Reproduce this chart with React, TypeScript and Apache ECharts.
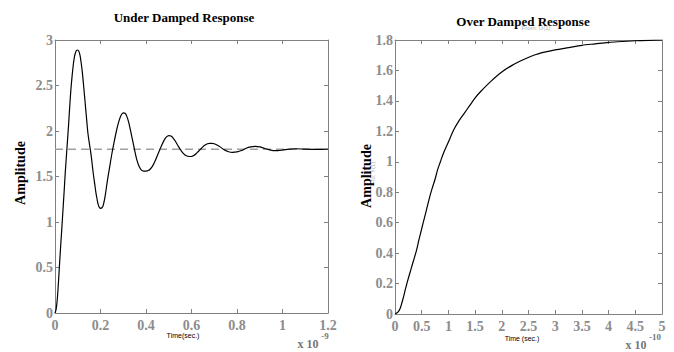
import React, { useEffect, useRef } from "react";
import * as echarts from "echarts";

// Under damped response (time in units of 1e-9 s)
const underT = [0, 0.005, 0.01, 0.015, 0.02, 0.025, 0.03, 0.035, 0.04, 0.045, 0.05, 0.055, 0.06, 0.065, 0.07, 0.075, 0.08, 0.085, 0.09, 0.095, 0.1, 0.105, 0.11, 0.115, 0.12, 0.125, 0.13, 0.135, 0.14, 0.145, 0.15, 0.155, 0.16, 0.165, 0.17, 0.175, 0.18, 0.185, 0.19, 0.195, 0.2, 0.21, 0.22, 0.23, 0.24, 0.25, 0.26, 0.27, 0.28, 0.29, 0.3, 0.31, 0.32, 0.33, 0.34, 0.35, 0.36, 0.37, 0.38, 0.39, 0.4, 0.41, 0.42, 0.43, 0.44, 0.45, 0.46, 0.47, 0.48, 0.49, 0.5, 0.51, 0.52, 0.53, 0.54, 0.55, 0.56, 0.57, 0.58, 0.59, 0.6, 0.61, 0.62, 0.63, 0.64, 0.65, 0.66, 0.67, 0.68, 0.69, 0.7, 0.72, 0.74, 0.76, 0.78, 0.8, 0.82, 0.84, 0.86, 0.88, 0.9, 0.92, 0.94, 0.96, 0.98, 1.0, 1.03, 1.06, 1.1, 1.15, 1.2];
const underY = [0, 0.04, 0.15, 0.33, 0.54, 0.74, 0.93, 1.13, 1.33, 1.54, 1.72, 1.9, 2.08, 2.28, 2.46, 2.6, 2.72, 2.81, 2.86, 2.885, 2.89, 2.875, 2.83, 2.75, 2.65, 2.52, 2.38, 2.24, 2.1, 1.97, 1.88, 1.8, 1.71, 1.6, 1.5, 1.41, 1.32, 1.25, 1.19, 1.16, 1.15, 1.17, 1.28, 1.45, 1.6, 1.75, 1.88, 2.0, 2.1, 2.17, 2.2, 2.19, 2.13, 2.03, 1.91, 1.79, 1.68, 1.61, 1.57, 1.56, 1.56, 1.565, 1.585, 1.62, 1.67, 1.73, 1.79, 1.85, 1.9, 1.935, 1.95, 1.945, 1.92, 1.885, 1.84, 1.8, 1.765, 1.74, 1.725, 1.72, 1.72, 1.73, 1.75, 1.775, 1.8, 1.825, 1.845, 1.86, 1.865, 1.865, 1.86, 1.835, 1.8, 1.775, 1.765, 1.77, 1.785, 1.81, 1.825, 1.83, 1.825, 1.81, 1.795, 1.785, 1.785, 1.79, 1.8, 1.805, 1.8, 1.797, 1.8];
const underSteady = 1.8;
const underXTicks = { min: 0, max: 1.2, interval: 0.2 };
const underYTicks = { min: 0, max: 3, interval: 0.5 };

// Over damped response (time in units of 1e-10 s)
const overT = [0, 0.05, 0.1, 0.15, 0.2, 0.25, 0.3, 0.35, 0.4, 0.45, 0.5, 0.55, 0.6, 0.65, 0.7, 0.75, 0.8, 0.85, 0.9, 1.0, 1.1, 1.2, 1.3, 1.4, 1.5, 1.6, 1.8, 2.0, 2.2, 2.4, 2.6, 2.8, 3.0, 3.25, 3.5, 3.75, 4.0, 4.25, 4.5, 4.75, 5.0];
const overY = [0, 0.01, 0.04, 0.1, 0.17, 0.235, 0.295, 0.355, 0.415, 0.49, 0.56, 0.63, 0.7, 0.77, 0.83, 0.885, 0.95, 1.0, 1.05, 1.13, 1.21, 1.27, 1.32, 1.37, 1.42, 1.46, 1.53, 1.59, 1.635, 1.67, 1.7, 1.72, 1.735, 1.75, 1.765, 1.775, 1.785, 1.79, 1.795, 1.798, 1.8];
const overXTicks = { min: 0, max: 5, interval: 0.5 };
const overYTicks = { min: 0, max: 1.8, interval: 0.2 };

const AXIS_COLOR = "#808080";
const LABEL_COLOR = "#8c8c8c";
const SERIF = "'Liberation Serif', 'Times New Roman', serif";

function mainAxis(pos: string, ticks: any, gridIndex: number, margin: number) {
  return {
    type: "value",
    gridIndex,
    position: pos,
    min: ticks.min,
    max: ticks.max,
    interval: ticks.interval,
    axisLine: { show: true, onZero: false, lineStyle: { color: AXIS_COLOR, width: 1 } },
    axisTick: { show: true, inside: true, length: 4, lineStyle: { color: AXIS_COLOR } },
    axisLabel: {
      show: true,
      margin,
      color: LABEL_COLOR,
      fontFamily: SERIF,
      fontWeight: "bold",
      fontSize: 14,
      showMinLabel: true,
      showMaxLabel: true,
    },
    splitLine: { show: false },
  };
}

function mirrorAxis(pos: string, ticks: any, gridIndex: number) {
  return {
    type: "value",
    gridIndex,
    position: pos,
    min: ticks.min,
    max: ticks.max,
    interval: ticks.interval,
    axisLine: { show: true, onZero: false, lineStyle: { color: AXIS_COLOR, width: 1 } },
    axisTick: { show: true, inside: true, length: 4, lineStyle: { color: AXIS_COLOR } },
    axisLabel: { show: false },
    splitLine: { show: false },
  };
}

export default function App() {
  const ref = useRef<HTMLDivElement>(null);
  useEffect(() => {
    if (!ref.current) return;
    const chart = echarts.init(ref.current, null, { renderer: "svg" });
    const underData = underT.map((t, i) => [t, underY[i]]);
    const overData = overT.map((t, i) => [t, overY[i]]);
    chart.setOption({
      animation: false,
      backgroundColor: "#ffffff",
      grid: [
        { left: 55, top: 40, width: 273, height: 273 },
        { left: 395, top: 40, width: 267, height: 274 },
      ],
      xAxis: [
        mainAxis("bottom", underXTicks, 0, 5),
        mirrorAxis("top", underXTicks, 0),
        mainAxis("bottom", overXTicks, 1, 5),
        mirrorAxis("top", overXTicks, 1),
      ],
      yAxis: [
        mainAxis("left", underYTicks, 0, 2),
        mirrorAxis("right", underYTicks, 0),
        mainAxis("left", overYTicks, 1, 2),
        mirrorAxis("right", overYTicks, 1),
      ],
      series: [
        {
          type: "line",
          xAxisIndex: 0,
          yAxisIndex: 0,
          data: [[underXTicks.min, underSteady], [underXTicks.max, underSteady]],
          showSymbol: false,
          lineStyle: { color: "#a0a0a0", width: 1.5, type: [8, 5] },
          silent: true,
        },
        {
          type: "line",
          xAxisIndex: 0,
          yAxisIndex: 0,
          data: underData,
          showSymbol: false,
          smooth: 0.3,
          lineStyle: { color: "#000000", width: 1.2 },
        },
        {
          type: "line",
          xAxisIndex: 2,
          yAxisIndex: 2,
          data: overData,
          showSymbol: false,
          smooth: 0.3,
          lineStyle: { color: "#000000", width: 1.2 },
        },
      ],
      graphic: [
        { type: "text", x: 184, y: 17, style: { text: "Under Damped Response", font: `bold 13px ${SERIF}`, fill: "#000", textAlign: "center", textVerticalAlign: "middle" } },
        { type: "text", x: 523, y: 21, style: { text: "Over Damped Response", font: `bold 13px ${SERIF}`, fill: "#000", textAlign: "center", textVerticalAlign: "middle" } },
        { type: "text", x: 536, y: 28, style: { text: "From: U(1)", font: `6px 'Liberation Sans', sans-serif`, fill: "#b0b0b0", textAlign: "center", textVerticalAlign: "middle" } },
        { type: "text", x: 20, y: 173, rotation: Math.PI / 2, style: { text: "Amplitude", font: `bold 14px ${SERIF}`, fill: "#000", textAlign: "center", textVerticalAlign: "middle" } },
        { type: "text", x: 366, y: 176, rotation: Math.PI / 2, style: { text: "Amplitude", font: `bold 14px ${SERIF}`, fill: "#000", textAlign: "center", textVerticalAlign: "middle" } },
        { type: "text", x: 373, y: 172, rotation: Math.PI / 2, style: { text: "To: Y(1)", font: `6px 'Liberation Sans', sans-serif`, fill: "#b0b0b0", textAlign: "center", textVerticalAlign: "middle" } },
        { type: "text", x: 183, y: 335, style: { text: "Time(sec.)", font: `7px 'Liberation Sans', sans-serif`, fill: "#000", textAlign: "center", textVerticalAlign: "middle" } },
        { type: "text", x: 522, y: 338, style: { text: "Time (sec.)", font: `7px 'Liberation Sans', sans-serif`, fill: "#000", textAlign: "center", textVerticalAlign: "middle" } },
        { type: "text", x: 308, y: 344, style: { text: "x 10", font: `bold 12px ${SERIF}`, fill: "#777", textAlign: "center", textVerticalAlign: "middle" } },
        { type: "text", x: 325, y: 336, style: { text: "-9", font: `bold 9px ${SERIF}`, fill: "#777", textAlign: "center", textVerticalAlign: "middle" } },
        { type: "text", x: 636, y: 345, style: { text: "x 10", font: `bold 12px ${SERIF}`, fill: "#777", textAlign: "center", textVerticalAlign: "middle" } },
        { type: "text", x: 655, y: 337, style: { text: "-10", font: `bold 9px ${SERIF}`, fill: "#777", textAlign: "center", textVerticalAlign: "middle" } },
      ],
    });
    return () => chart.dispose();
  }, []);
  return <div ref={ref} style={{ position: "fixed", left: 0, top: 0, width: 674, height: 352 }} />;
}
